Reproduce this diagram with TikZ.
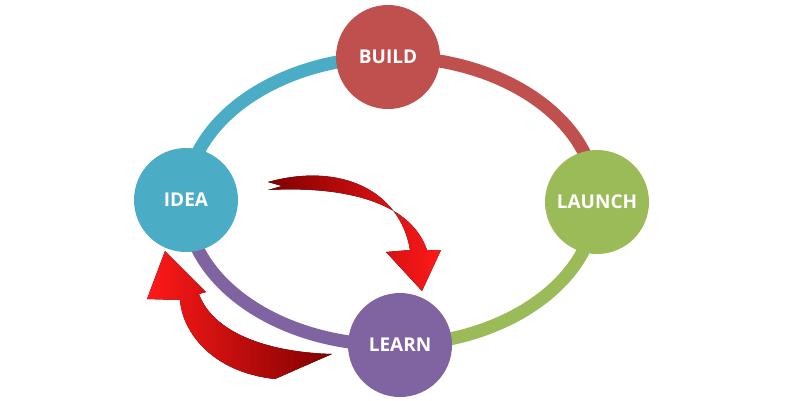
\documentclass[tikz,border=0pt]{standalone}
\usepackage{fontspec}
\setmainfont{Open Sans}
\begin{document}
\begin{tikzpicture}[x=1pt,y=-1pt,
  stage/.style={circle,minimum size=104pt,inner sep=0pt,text=white,font=\bfseries\fontsize{19}{22}\selectfont},
  ring/.style={line width=13pt}]
\definecolor{cB}{HTML}{C0504D}\definecolor{cL}{HTML}{9BBB59}
\definecolor{cE}{HTML}{8064A2}\definecolor{cI}{HTML}{4BACC6}
\useasboundingbox[fill=white] (0,0) rectangle (800,400);
\coordinate (c) at (391,201);
\draw[ring,cI] (c) ++(180:205 and 144) arc[start angle=180,end angle=270,x radius=205,y radius=144];
\draw[ring,cB] (c) ++(270:205 and 144) arc[start angle=270,end angle=360,x radius=205,y radius=144];
\draw[ring,cL] (c) ++(0:205 and 144) arc[start angle=0,end angle=90,x radius=205,y radius=144];
\draw[ring,cE] (c) ++(90:205 and 144) arc[start angle=90,end angle=180,x radius=205,y radius=144];
\node[stage,fill=cB] (build) at (388,57) {BUILD};
\node[stage,fill=cL] (launch) at (597,202) {LAUNCH};
\node[stage,fill=cE] (learn) at (400,345) {LEARN};
\node[stage,fill=cI] (idea) at (186,200) {IDEA};
\fill[left color=red!50!black,right color=red!90!white]
  (268,182) .. controls (340,162) and (400,190) .. (410,250)
  -- (386,252) -- (422,291) -- (441,250) -- (427,250)
  .. controls (410,200) and (340,186) .. (268,190) -- (282,186) -- cycle;
\fill[right color=red!50!black,left color=red!90!white]
  (275,379) .. controls (210,372) and (182,330) .. (180,300)
  -- (147,299) -- (165,251) -- (206,292) -- (199,294)
  .. controls (212,330) and (262,352) .. (332,354) -- (300,368) -- cycle;
\end{tikzpicture}
\end{document}
